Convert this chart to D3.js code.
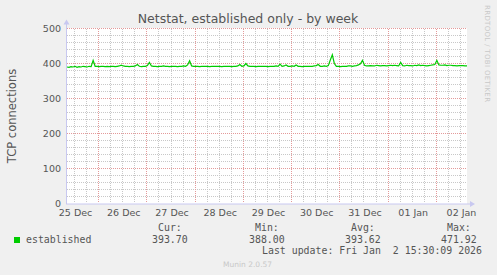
<!DOCTYPE html>
<html>
<head>
<meta charset="utf-8">
<script src="https://cdn.jsdelivr.net/npm/d3@7"></script>
<style>
  html, body { margin: 0; padding: 0; background: #f0f0f0; }
  svg { display: block; font-family: "DejaVu Sans", sans-serif; }
  .mono { font-family: "DejaVu Sans Mono", monospace; font-size: 9.9px; fill: #555; }
</style>
</head>
<body>
<svg></svg>
<script>
// hourly averages, starting 25 Dec 08:30 UTC
const startTime = Date.UTC(2025, 11, 25, 8, 30),
      stepHours = 1,
      established = [
        390,389,391,390,392,389,391,390,392,391,390,392,391,409,392,392,391,392,392,391,
        392,391,392,392,391,392,393,395,393,392,392,391,392,392,393,397,392,391,392,392,
        394,403,393,392,392,391,392,392,393,392,392,391,392,392,392,391,392,392,393,392,
        396,408,393,392,392,392,391,392,392,392,392,391,392,392,392,392,392,391,392,392,
        392,392,391,392,392,393,397,392,393,400,393,392,392,392,391,392,392,392,392,392,
        391,392,392,392,393,392,398,392,393,396,392,392,393,392,396,392,392,391,392,392,
        392,392,392,393,394,397,392,392,393,392,394,410,425,400,392,392,391,392,392,392,
        393,393,392,393,394,396,399,409,395,393,393,394,393,393,395,394,393,394,394,393,
        394,395,394,395,394,393,403,394,393,395,394,394,393,395,394,396,394,395,394,393,
        394,395,396,397,409,396,395,395,396,394,395,395,394,394,393,394,394,394,393,393
      ],
      yTicks = [0, 100, 200, 300, 400, 500],
      yMinor = d3.range(0, 501, 20),
      legendHeads = ['Cur:', 'Min:', 'Avg:', 'Max:'],
      legendValues = ['393.70', '388.00', '393.62', '471.92'],
      title = 'Netstat, established only - by week',
      yTitle = 'TCP connections',
      lastUpdate = 'Last update: Fri Jan  2 15:30:09 2026';

const width = 497,
      height = 275,
      plotLeft = 67,
      plotRight = 467,
      plotTop = 28.5,
      plotBottom = 203.5,
      endTime = startTime + (established.length - 1) * stepHours * 3600e3,
      points = established.map((v, i) => ({ t: new Date(startTime + i * stepHours * 3600e3), v })),
      xScale = d3.scaleUtc()
                 .domain([new Date(startTime), new Date(endTime)])
                 .range([plotLeft, plotRight]),
      yScale = d3.scaleLinear()
                 .domain([0, 500])
                 .range([plotBottom, plotTop]);

const svg = d3.select('svg')
    .attr('width', width)
    .attr('height', height);

svg.append('rect')
    .attr('width', width)
    .attr('height', height)
    .attr('fill', '#f0f0f0');

svg.append('rect')
    .attr('x', plotLeft)
    .attr('y', Math.floor(plotTop))
    .attr('width', plotRight - plotLeft)
    .attr('height', Math.ceil(plotBottom) - Math.floor(plotTop))
    .attr('fill', '#ffffff');

// grid: minor first, then major
const sixHours = d3.utcHour.every(6).range(xScale.domain()[0], xScale.domain()[1]),
      days = d3.utcDay.range(xScale.domain()[0], xScale.domain()[1]),
      gy0 = Math.ceil(plotTop),
      gy1 = Math.floor(plotBottom);

const grid = svg.append('g')
    .attr('fill', 'none')
    .attr('stroke-width', 1)
    .attr('stroke-dasharray', '1,1')
    .attr('shape-rendering', 'crispEdges');

grid.selectAll('.hminor')
  .data(yMinor.filter((d) => d % 100))
  .enter()
  .append('line')
    .attr('x1', plotLeft).attr('x2', plotRight)
    .attr('y1', (d) => Math.floor(yScale(d)) + 0.5)
    .attr('y2', (d) => Math.floor(yScale(d)) + 0.5)
    .attr('stroke', '#c8c8c8');

grid.selectAll('.vminor')
  .data(sixHours)
  .enter()
  .append('line')
    .attr('x1', (d) => Math.round(xScale(d)) + 0.5)
    .attr('x2', (d) => Math.round(xScale(d)) + 0.5)
    .attr('y1', gy0).attr('y2', gy1)
    .attr('stroke', '#c8c8c8');

grid.selectAll('.hmajor')
  .data(yTicks.filter((d) => d > 0))
  .enter()
  .append('line')
    .attr('x1', plotLeft).attr('x2', plotRight)
    .attr('y1', (d) => Math.floor(yScale(d)) + 0.5)
    .attr('y2', (d) => Math.floor(yScale(d)) + 0.5)
    .attr('stroke', '#e49a9a');

grid.selectAll('.vmajor')
  .data(days)
  .enter()
  .append('line')
    .attr('x1', (d) => Math.round(xScale(d)) + 0.5)
    .attr('x2', (d) => Math.round(xScale(d)) + 0.5)
    .attr('y1', gy0).attr('y2', gy1)
    .attr('stroke', '#e49a9a');

// axes
const yAxis = d3.axisLeft(yScale)
                .tickValues(yTicks)
                .tickSize(0)
                .tickPadding(5),
      xAxis = d3.axisBottom(xScale)
                .tickValues(d3.utcDay.range(d3.utcDay.floor(xScale.domain()[0]), xScale.domain()[1])
                              .map((d) => d3.utcHour.offset(d, 12)))
                .tickFormat(d3.utcFormat('%d %b'))
                .tickSize(0)
                .tickPadding(6);

svg.append('g')
    .attr('transform', `translate(${plotLeft - 1}, 0)`)
    .call(yAxis)
    .call((g) => g.select('.domain').remove())
    .selectAll('text')
      .attr('fill', '#555')
      .style('font-size', '9.5px')
      .style('font-family', 'DejaVu Sans');

svg.append('g')
    .attr('transform', `translate(1, ${plotBottom})`)
    .call(xAxis)
    .call((g) => g.select('.domain').remove())
    .selectAll('text')
      .attr('fill', '#555')
      .style('font-size', '9.5px')
      .style('font-family', 'DejaVu Sans');

// axis lines with arrows
const axisColor = '#c8c8f0';
svg.append('line')
    .attr('x1', plotLeft - 0.5).attr('x2', plotLeft - 0.5)
    .attr('y1', plotBottom + 0.5).attr('y2', plotTop - 5)
    .attr('stroke', axisColor);
svg.append('path')
    .attr('d', `M${plotLeft - 3.5},${plotTop - 4} L${plotLeft - 0.5},${plotTop - 9} L${plotLeft + 2.5},${plotTop - 4} Z`)
    .attr('fill', axisColor);
svg.append('line')
    .attr('x1', plotLeft - 1).attr('x2', plotRight + 4)
    .attr('y1', plotBottom + 0.5).attr('y2', plotBottom + 0.5)
    .attr('stroke', axisColor);
svg.append('path')
    .attr('d', `M${plotRight + 3},${plotBottom - 2.5} L${plotRight + 8},${plotBottom + 0.5} L${plotRight + 3},${plotBottom + 3.5} Z`)
    .attr('fill', axisColor);

// data line
svg.append('path')
  .datum(points)
    .attr('fill', 'none')
    .attr('stroke', '#00cc00')
    .attr('stroke-width', 1.2)
    .attr('d', d3.line().x((d) => xScale(d.t)).y((d) => yScale(d.v)));

// titles
svg.append('text')
    .text(title)
    .attr('x', 248)
    .attr('y', 23)
    .attr('fill', '#555')
    .style('font-size', '12.5px')
    .style('text-anchor', 'middle');

svg.append('text')
    .text(yTitle)
    .attr('transform', `translate(16, ${(plotTop + plotBottom) / 2}) rotate(-90)`)
    .attr('fill', '#555')
    .style('font-size', '11.5px')
    .style('text-anchor', 'middle');

svg.append('text')
    .text('RRDTOOL / TOBI OETIKER')
    .attr('transform', 'translate(485, 5) rotate(90)')
    .attr('fill', '#c8c8c8')
    .attr('textLength', 97)
    .style('font-size', '7px');

// legend
svg.append('rect')
    .attr('x', 14).attr('y', 237)
    .attr('width', 6).attr('height', 6)
    .attr('fill', '#00cc00');

svg.append('text')
    .attr('class', 'mono')
    .attr('x', 26).attr('y', 243)
    .text('established');

const legendX = [152, 249, 345, 441];

svg.selectAll('.lhead')
  .data(legendHeads)
  .enter()
  .append('text')
    .attr('class', 'mono')
    .attr('x', (d, i) => legendX[i] + 6)
    .attr('y', 231)
    .text((d) => d);

svg.selectAll('.lval')
  .data(legendValues)
  .enter()
  .append('text')
    .attr('class', 'mono')
    .attr('x', (d, i) => legendX[i])
    .attr('y', 243)
    .text((d) => d);

svg.append('text')
    .attr('class', 'mono')
    .attr('x', 262).attr('y', 254)
    .style('white-space', 'pre')
    .text(lastUpdate);

svg.append('text')
    .text('Munin 2.0.57')
    .attr('x', 223).attr('y', 267)
    .attr('fill', '#c8c8c8')
    .style('font-size', '7.5px');
</script>
</body>
</html>
